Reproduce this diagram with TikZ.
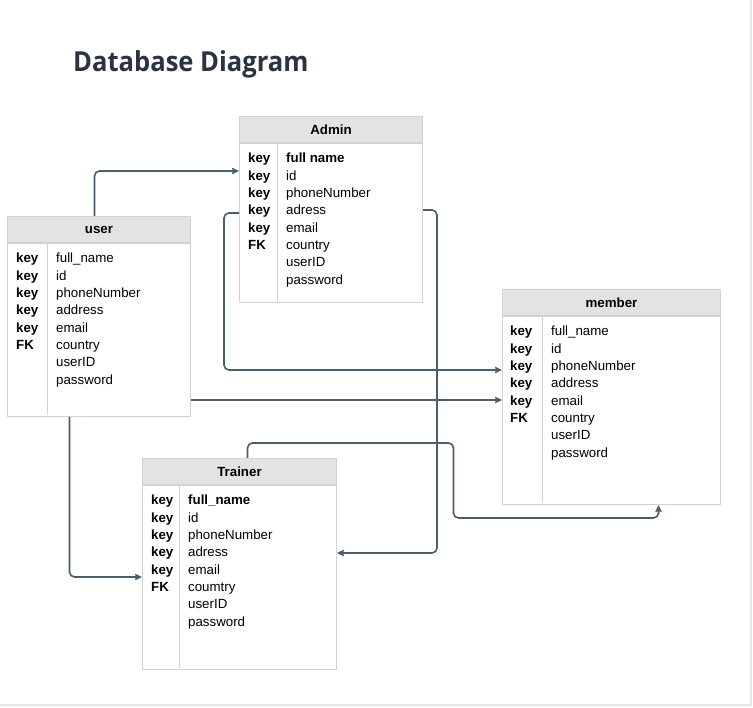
\documentclass[tikz,border=0pt]{standalone}
\usepackage{fontspec}
\setmainfont{Liberation Sans}
\newfontfamily\titlefont{Open Sans}
\usetikzlibrary{arrows.meta}

\definecolor{linkcol}{HTML}{4A5E6C}
\definecolor{headgray}{HTML}{E3E3E3}
\definecolor{tblgray}{HTML}{D2D2D2}
\definecolor{framegray}{HTML}{E6E6E6}
\definecolor{titlecol}{HTML}{2B3340}
\newcommand{\tblfont}{\fontsize{13.3pt}{16pt}\selectfont}

\tikzset{
	tblhead/.style={draw=tblgray, fill=headgray, line width=1pt, minimum height=26pt, inner sep=0pt, font=\tblfont\bfseries, anchor=north west},
	tblbody/.style={draw=tblgray, line width=1pt, inner sep=0pt, anchor=north west},
	keytext/.style={anchor=base west, inner sep=0pt, font=\tblfont\bfseries},
	rowtext/.style={anchor=base west, inner sep=0pt, font=\tblfont},
	link/.style={draw=linkcol, line width=1.6pt, rounded corners=5pt, -{Stealth[length=7pt,width=6.5pt,inset=1pt]}}
}

\begin{document}
\begin{tikzpicture}[x=1pt,y=-1pt]
	\fill[white] (0,0) rectangle (753,708);
	\useasboundingbox (0,0) rectangle (753,708);
	\draw[framegray, line width=2pt] (751,0) -- (751,705) -- (0,705);

	\node[anchor=base west, inner sep=0pt, text=titlecol, font=\titlefont\bfseries\fontsize{27.5pt}{32pt}\selectfont] (title) at (73,72) {\scalebox{0.93}[1]{Database Diagram}};

	% Admin
	\node[tblhead, minimum width=183pt] (admin) at (239,116) {Admin};
	\node[tblbody, minimum width=183pt, minimum height=159pt] (adminbody) at (admin.south west) {};
	\draw[tblgray, line width=1pt] (277,142) -- (277,301);
	\foreach \k/\f [count=\i from 0] in {key/\textbf{full name},key/id,key/phoneNumber,key/adress,key/email,FK/country,/userID,/password}{
		\node[keytext] (adk\i) at (248,{163+17.3*\i}) {\k};
		\node[rowtext] (adf\i) at (286,{163+17.3*\i}) {\f};
	}

	% user
	\node[tblhead, minimum width=183pt] (user) at (7,216) {user};
	\node[tblbody, minimum width=183pt, minimum height=173pt] (userbody) at (user.south west) {};
	\draw[tblgray, line width=1pt] (47,242) -- (47,415);
	\foreach \k/\f [count=\i from 0] in {key/full\_name,key/id,key/phoneNumber,key/address,key/email,FK/country,/userID,/password}{
		\node[keytext] (usk\i) at (16,{263+17.3*\i}) {\k};
		\node[rowtext] (usf\i) at (56,{263+17.3*\i}) {\f};
	}

	% member
	\node[tblhead, minimum width=218pt] (member) at (502,289) {member};
	\node[tblbody, minimum width=218pt, minimum height=188pt] (memberbody) at (member.south west) {};
	\draw[tblgray, line width=1pt] (542.5,315) -- (542.5,503);
	\foreach \k/\f [count=\i from 0] in {key/full\_name,key/id,key/phoneNumber,key/address,key/email,FK/country,/userID,/password}{
		\node[keytext] (mek\i) at (510,{336+17.3*\i}) {\k};
		\node[rowtext] (mef\i) at (551,{336+17.3*\i}) {\f};
	}

	% Trainer
	\node[tblhead, minimum width=194pt] (trainer) at (142,458) {Trainer};
	\node[tblbody, minimum width=194pt, minimum height=184pt] (trainerbody) at (trainer.south west) {};
	\draw[tblgray, line width=1pt] (179,484) -- (179,668);
	\foreach \k/\f [count=\i from 0] in {key/\textbf{full\_name},key/id,key/phoneNumber,key/adress,key/email,FK/coumtry,/userID,/password}{
		\node[keytext] (trk\i) at (151,{505+17.3*\i}) {\k};
		\node[rowtext] (trf\i) at (188,{505+17.3*\i}) {\f};
	}

	% links
	\draw[link] ([xshift=-4.5pt]user.north) |- ([yshift=-28pt]admin.south west);
	\draw[link] ([yshift=-70pt]admin.south west) -- ++(-15,0) |- ([yshift=-54pt]member.south west);
	\draw[link] ([yshift=-67pt]admin.south east) -- ++(14,0) |- ([yshift=-68pt]trainer.south east);
	\draw[link] ([yshift=-157pt]user.south east) -- ([yshift=-84pt]member.south west);
	\draw[link] ([xshift=-29.5pt]userbody.south) |- ([yshift=-92pt]trainer.south west);
	\draw[link] ([xshift=8pt]trainer.north) -- ++(0,-15) -| ++(206,75) -| ([xshift=47pt]memberbody.south);
\end{tikzpicture}
\end{document}
